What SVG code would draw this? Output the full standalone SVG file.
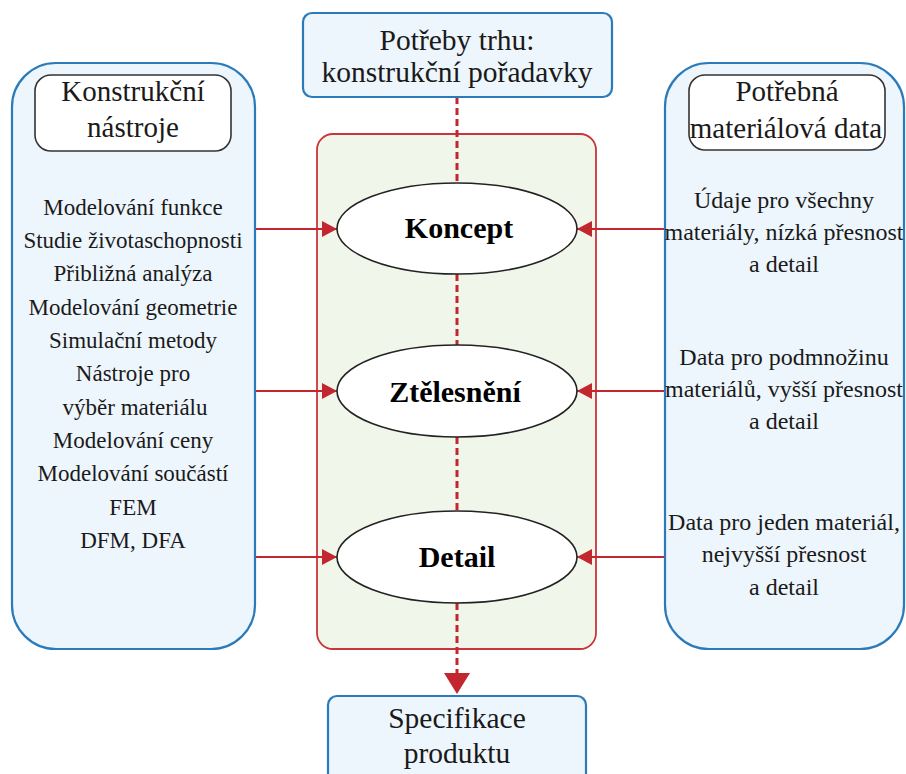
<svg xmlns="http://www.w3.org/2000/svg" width="906" height="774" viewBox="0 0 906 774">
  <style>
    .panel { fill: #eef6fd; stroke: #2b7bbb; stroke-width: 2.2; }
    .head { fill: #ffffff; stroke: #333333; stroke-width: 1.6; }
    .stage { fill: #ffffff; stroke: #222222; stroke-width: 1.6; }
    .core { fill: #f1f6ea; stroke: #c9353a; stroke-width: 1.8; }
    .flow { stroke: #c2262f; stroke-width: 3; stroke-dasharray: 7 4; fill: none; }
    .feed { stroke: #c2262f; stroke-width: 2; fill: none; }
  </style>
  <defs>
    <marker id="tip" markerUnits="userSpaceOnUse" markerWidth="16" markerHeight="16" refX="15" refY="8" orient="auto">
      <path d="M0,0 L15,8 L0,16 z" fill="#c2262f"/>
    </marker>
  </defs>

  <!-- central stage panel -->
  <g id="stages-panel">
    <rect class="core" x="317" y="134" width="279" height="515" rx="16"/>
  </g>

  <!-- connectors -->
  <g id="connectors">
    <line class="flow" x1="457" y1="97" x2="457" y2="182"/>
    <line class="flow" x1="457" y1="274" x2="457" y2="345"/>
    <line class="flow" x1="457" y1="437" x2="457" y2="511"/>
    <line class="flow" x1="457" y1="603" x2="457" y2="675"/>
    <polygon points="444,673 470,673 457,694" fill="#c2262f"/>
    <line class="feed" x1="255" y1="229" x2="337" y2="229" marker-end="url(#tip)"/>
    <line class="feed" x1="255" y1="391" x2="337" y2="391" marker-end="url(#tip)"/>
    <line class="feed" x1="255" y1="557" x2="337" y2="557" marker-end="url(#tip)"/>
    <line class="feed" x1="665" y1="229" x2="577" y2="229" marker-end="url(#tip)"/>
    <line class="feed" x1="665" y1="391" x2="577" y2="391" marker-end="url(#tip)"/>
    <line class="feed" x1="665" y1="557" x2="577" y2="557" marker-end="url(#tip)"/>
  </g>

  <!-- market needs -->
  <g id="market-needs" text-anchor="middle" fill="#1a1a1a">
    <rect class="panel" x="303" y="13" width="309" height="84" rx="9"/>
    <text font-family="Liberation Serif" font-size="29.5" x="457" y="50">Potřeby trhu:</text>
    <text font-family="Liberation Serif" font-size="29.5" x="457" y="82">konstrukční pořadavky</text>
  </g>

  <!-- design tools -->
  <g id="design-tools" text-anchor="middle" fill="#1a1a1a">
    <rect class="panel" x="12" y="63" width="243" height="586" rx="44"/>
    <rect class="head" x="35" y="75" width="196" height="76" rx="16"/>
    <text font-family="Liberation Serif" font-size="29" x="133" y="101">Konstrukční</text>
    <text font-family="Liberation Serif" font-size="29" x="133" y="137">nástroje</text>
    <text font-family="Liberation Serif" font-size="23" x="133" y="215">Modelování funkce</text>
    <text font-family="Liberation Serif" font-size="23" x="133" y="248">Studie životaschopnosti</text>
    <text font-family="Liberation Serif" font-size="23" x="133" y="281">Přibližná analýza</text>
    <text font-family="Liberation Serif" font-size="23" x="133" y="315">Modelování geometrie</text>
    <text font-family="Liberation Serif" font-size="23" x="133" y="348">Simulační metody</text>
    <text font-family="Liberation Serif" font-size="23" x="133" y="381">Nástroje pro</text>
    <text font-family="Liberation Serif" font-size="23" x="135" y="415">výběr materiálu</text>
    <text font-family="Liberation Serif" font-size="23" x="133" y="448">Modelování ceny</text>
    <text font-family="Liberation Serif" font-size="23" x="133" y="481">Modelování součástí</text>
    <text font-family="Liberation Serif" font-size="23" x="133" y="515">FEM</text>
    <text font-family="Liberation Serif" font-size="23" x="133" y="548">DFM, DFA</text>
  </g>

  <!-- material data -->
  <g id="material-data" text-anchor="middle" fill="#1a1a1a">
    <rect class="panel" x="665" y="63" width="239" height="586" rx="44"/>
    <rect class="head" x="689" y="75" width="196" height="75" rx="16"/>
    <text font-family="Liberation Serif" font-size="29" x="787" y="101">Potřebná</text>
    <text font-family="Liberation Serif" font-size="29" x="786" y="138">materiálová data</text>
    <text font-family="Liberation Serif" font-size="24" x="784" y="208">Údaje pro všechny</text>
    <text font-family="Liberation Serif" font-size="24" x="784" y="240">materiály, nízká přesnost</text>
    <text font-family="Liberation Serif" font-size="24" x="784" y="272">a detail</text>
    <text font-family="Liberation Serif" font-size="24" x="784" y="365">Data pro podmnožinu</text>
    <text font-family="Liberation Serif" font-size="24" x="784" y="397">materiálů, vyšší přesnost</text>
    <text font-family="Liberation Serif" font-size="24" x="784" y="429">a detail</text>
    <text font-family="Liberation Serif" font-size="24" x="784" y="530">Data pro jeden materiál,</text>
    <text font-family="Liberation Serif" font-size="24" x="784" y="562">nejvyšší přesnost</text>
    <text font-family="Liberation Serif" font-size="24" x="784" y="595">a detail</text>
  </g>

  <!-- stages -->
  <g id="stage-concept" text-anchor="middle" fill="#000000">
    <ellipse class="stage" cx="457" cy="228.5" rx="120" ry="45.5"/>
    <text font-family="Liberation Serif" font-size="30" font-weight="bold" x="459" y="238">Koncept</text>
  </g>
  <g id="stage-embodiment" text-anchor="middle" fill="#000000">
    <ellipse class="stage" cx="457" cy="391" rx="120" ry="46"/>
    <text font-family="Liberation Serif" font-size="30" font-weight="bold" x="455" y="402">Ztělesnění</text>
  </g>
  <g id="stage-detail" text-anchor="middle" fill="#000000">
    <ellipse class="stage" cx="457" cy="557" rx="120" ry="46"/>
    <text font-family="Liberation Serif" font-size="30" font-weight="bold" x="457" y="567">Detail</text>
  </g>

  <!-- product specification -->
  <g id="product-spec" text-anchor="middle" fill="#1a1a1a">
    <rect class="panel" x="328" y="696" width="258" height="90" rx="9"/>
    <text font-family="Liberation Serif" font-size="29.5" x="457" y="728">Specifikace</text>
    <text font-family="Liberation Serif" font-size="29.5" x="457" y="763">produktu</text>
  </g>
</svg>
